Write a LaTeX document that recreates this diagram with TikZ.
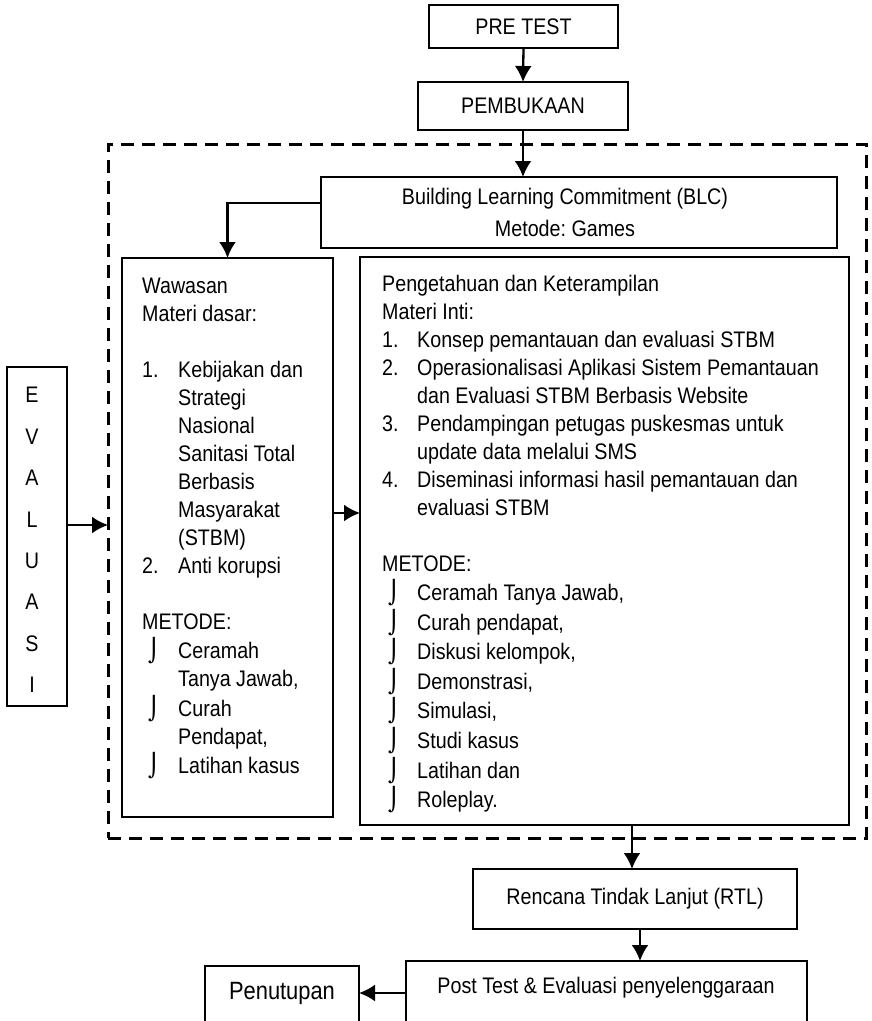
\documentclass[tikz,border=0pt]{standalone}
\usepackage{fontspec}
\setmainfont{Liberation Sans}[FakeStretch=0.875]
\newfontfamily\symboles{DejaVu Sans}
\usetikzlibrary{arrows.meta}
\frenchspacing

\newcommand{\puce}{\hspace*{6pt}{\symboles ⌡}}
\newcommand{\entete}[1]{\multicolumn{2}{@{}l@{}}{#1}}

\begin{document}
\begin{tikzpicture}[x=1pt,y=-1pt]
	\tikzstyle{boite}=[draw,line width=2.8pt,inner sep=0pt,outer sep=0pt,anchor=north west]
	\tikzstyle{cadre}=[draw,line width=3pt,dash pattern=on 13pt off 8pt,inner sep=0pt,outer sep=0pt,anchor=north west]
	\tikzstyle{texte}=[inner sep=0pt,font=\fontsize{22.5}{28}\selectfont]
	\tikzstyle{fleche}=[-{Latex[length=16pt,width=17pt]},line width=2.3pt]
	
	\useasboundingbox (0,0) rectangle (871,1021);
	\clip (0,0) rectangle (871,1021);
	
	% cadre en pointilles
	\node[cadre,minimum width=758pt,minimum height=694pt] (cadre) at (108,144) {};
	
	% boites
	\node[boite,texte,minimum width=189pt,minimum height=43pt] (pre) at (429,5) {PRE TEST};
	\node[boite,texte,minimum width=210pt,minimum height=48pt] (pemb) at (418,82) {PEMBUKAAN};
	\node[boite,minimum width=516pt,minimum height=71pt] (blc) at (321,177) {};
	\node[boite,minimum width=211pt,minimum height=559pt] (waw) at (122,258) {};
	\node[boite,minimum width=489pt,minimum height=568pt] (peng) at (360,257) {};
	\node[boite,minimum width=60pt,minimum height=339pt] (eval) at (7,367) {};
	\node[boite,texte,minimum width=324pt,minimum height=60pt] (rtl) at (473,869) {Rencana Tindak Lanjut (RTL)};
	\node[boite,minimum width=401pt,minimum height=90pt] (post) at (406,961) {};
	\node[boite,minimum width=154pt,minimum height=90pt] (penut) at (205,966) {};
	
	% textes
	\node[texte,align=center] (blcT) at (565,212) {Building Learning Commitment (BLC)\\[4pt]Metode: Games};
	\node[texte,align=center,font=\fontsize{22.5}{41.4}\selectfont] (evalT) at (32,540) {E\\V\\A\\L\\U\\A\\S\\I};
	\node[texte] (postT) at (606,988) {Post Test \& Evaluasi penyelenggaraan};
	\node[texte,font=\fontsize{25}{30}\selectfont] (penutT) at (282,993) {Penutupan};
	
	\node[texte,anchor=base west] (wawT) at (142,293) {\begin{tabular}[t]{@{}p{36pt}@{}l@{}}
		\entete{Wawasan}\\
		\entete{Materi dasar:}\\
		\\
		1. & Kebijakan dan\\
		& Strategi\\
		& Nasional\\
		& Sanitasi Total\\
		& Berbasis\\
		& Masyarakat\\
		& (STBM)\\
		2. & Anti korupsi\\
		\\
		\entete{METODE:}\\
		\puce & Ceramah\\
		& Tanya Jawab,\\
		\puce & Curah\\
		& Pendapat,\\
		\puce & Latihan kasus
	\end{tabular}};
	
	\node[texte,anchor=base west] (pengT) at (382,291) {\begin{tabular}[t]{@{}p{35pt}@{}l@{}}
		\entete{Pengetahuan dan Keterampilan}\\
		\entete{Materi Inti:}\\
		1. & Konsep pemantauan dan evaluasi STBM\\
		2. & Operasionalisasi Aplikasi Sistem Pemantauan\\
		& dan Evaluasi STBM Berbasis Website\\
		3. & Pendampingan petugas puskesmas untuk\\
		& update data melalui SMS\\
		4. & Diseminasi informasi hasil pemantauan dan\\
		& evaluasi STBM\\
		\\
		\entete{METODE:}\\
		\puce & Ceramah Tanya Jawab,\\
		\puce & Curah pendapat,\\
		\puce & Diskusi kelompok,\\
		\puce & Demonstrasi,\\
		\puce & Simulasi,\\
		\puce & Studi kasus\\
		\puce & Latihan dan\\
		\puce & Roleplay.
	\end{tabular}};
	
	% fleches
	\draw[fleche] (pre.south) -- (pemb.north);
	\draw[fleche] (pemb.south) -- (pemb.south |- blc.north);
	\draw[fleche] ([yshift=9.5pt]blc.west) -| (waw.north);
	\draw[fleche] ([yshift=11.5pt]eval.east) -- ([yshift=11.5pt]eval.east -| cadre.west);
	\draw[fleche] ([yshift=24.5pt]waw.east) -- ([yshift=24.5pt]waw.east -| peng.west);
	\draw[fleche] ([xshift=-3pt]rtl.north |- peng.south) -- ([xshift=-3pt]rtl.north);
	\draw[fleche] ([xshift=5pt]rtl.south) -- ([xshift=5pt]rtl.south |- post.north);
	\draw[fleche] (post.west |- penutT) -- (penut.east |- penutT);
\end{tikzpicture}
\end{document}
